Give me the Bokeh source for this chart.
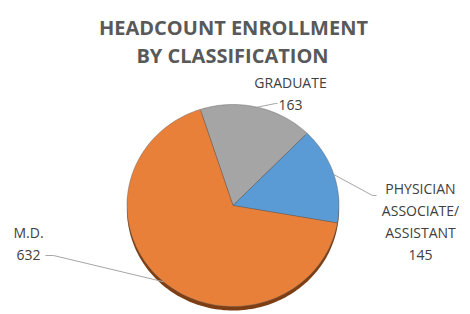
import numpy as np
from bokeh.plotting import figure
from bokeh.models import Range1d, ColumnDataSource
from bokeh.core.properties import value
from bokeh.embed import file_html
from bokeh.resources import INLINE

# ---- data ----
title_lines = ["HEADCOUNT ENROLLMENT", "BY CLASSIFICATION"]
categories = ["GRADUATE", "PHYSICIAN ASSOCIATE/ ASSISTANT", "M.D."]
label_lines = [["GRADUATE"], ["PHYSICIAN", "ASSOCIATE/", "ASSISTANT"], ["M.D."]]
counts = [163, 145, 632]
colors = ["#A5A5A5", "#5B9BD5", "#E8803A"]

# ---- layout (page pixels) ----
W, H = 470, 314
def px(xr): return xr
def py(yr): return H - yr

cx, cy = px(232.5), py(205)
rx, ry = 106, 101
start_deg = 108
# label anchors: (text centre x, first baseline y), elbow, end of leader line (page px)
label_pos = [(290, 82), (420, 188), (28, 232)]
elbow_pos = [(275, 103), (372, 195), (53, 255)]
leader_end = [(277, 103), (376, 195), (45, 255)]
line_step = 22

p = figure(width=W, height=H, x_range=Range1d(0, W), y_range=Range1d(0, H),
           output_backend="svg", toolbar_location=None, min_border=0)
p.axis.visible = False
p.grid.visible = False
p.outline_line_color = None
p.background_fill_color = "white"
p.border_fill_color = "white"

total = float(sum(counts))
fr = np.array(counts) / total
start = np.deg2rad(start_deg)
ends = start - 2 * np.pi * np.cumsum(fr)
starts = ends + 2 * np.pi * fr
mids = (starts + ends) / 2

# dark rim below the pie (3D edge)
t = np.linspace(0, 2 * np.pi, 240)
p.patch(cx + rx * np.cos(t), cy - 4 + ry * np.sin(t), fill_color="#7E3E14",
        line_color=None)

xs, ys = [], []
for s, e in zip(starts, ends):
    tt = np.linspace(s, e, 120)
    xs.append([cx] + list(cx + rx * np.cos(tt)))
    ys.append([cy] + list(cy + ry * np.sin(tt)))
src = ColumnDataSource(dict(xs=xs, ys=ys, color=colors, cat=categories, n=counts))
p.patches("xs", "ys", source=src, fill_color="color", line_color="#5f5f5f",
          line_alpha=0.55, line_width=0.8)

# leader lines
lx, ly = [], []
for m, el, en in zip(mids, elbow_pos, leader_end):
    lx.append([cx + rx * np.cos(m), px(el[0]), px(en[0])])
    ly.append([cy + ry * np.sin(m), py(el[1]), py(en[1])])
p.multi_line(lx, ly, line_color="#A6A6A6", line_width=1)

# data labels
tx, ty, tt_ = [], [], []
for lines, n, (x0, y0) in zip(label_lines, counts, label_pos):
    rows = lines + [str(n)]
    for i, r in enumerate(rows):
        tx.append(px(x0))
        ty.append(py(y0 + i * line_step))
        tt_.append(r)
p.text(tx, ty, text=tt_, text_align="center", text_baseline="alphabetic",
       text_font=value("Open Sans"), text_font_size="14px", text_color="#404040")

# title
p.text([px(233), px(232)], [py(27), py(55)], text=title_lines, text_align="center",
       text_baseline="alphabetic", text_font=value("Open Sans"),
       text_font_size="20px", text_font_style="bold", text_color="#595959")

open("out.html", "w").write(file_html(p, INLINE))
